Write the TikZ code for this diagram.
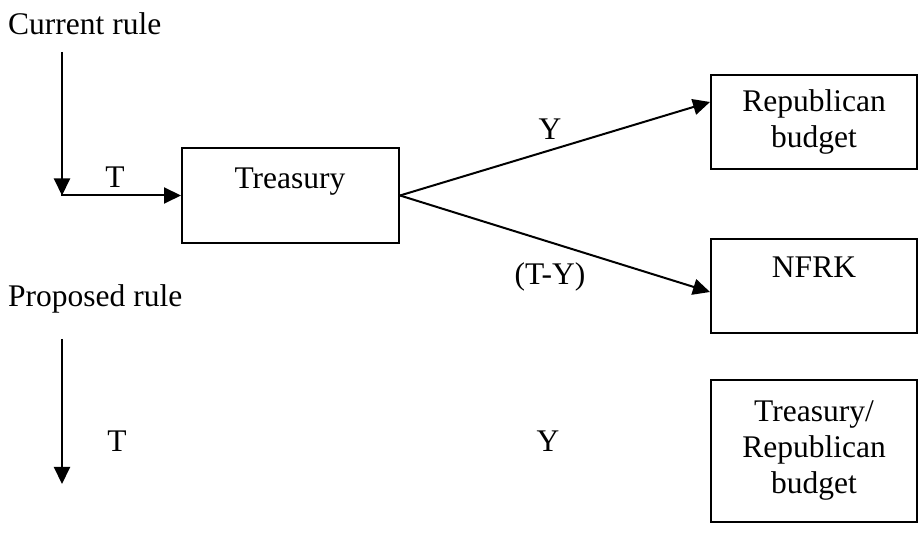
\documentclass[tikz,border=0pt]{standalone}
\usepackage{fontspec}
\setmainfont{Liberation Serif}
\usetikzlibrary{arrows.meta,calc}
\begin{document}
\begin{tikzpicture}[x=1pt,y=-1pt,
  every node/.style={font=\fontsize{31.5}{36}\selectfont, inner sep=0pt},
  boxnode/.style={draw, line width=2pt, minimum width=#1, inner sep=0pt},
  conn/.style={line width=2pt, -{Triangle[length=17pt,width=16pt]}}]
\useasboundingbox (0,0) rectangle (919,534);
% current rule
\node[anchor=base west] (cur) at (8,35) {Current rule};
\coordinate (cstart) at (62,52);
\coordinate (ccorner) at (62,195.5);
\node[boxnode=217pt, minimum height=95pt] (treas) at (290.5,195.5) {};
\node[anchor=base] (treastxt) at (290,189) {Treasury};
\draw[conn] (cstart) -- (ccorner);
\draw[conn] ([xshift=-1pt]ccorner) -- (treas.west);
\node[anchor=base] (tlab) at (115,188) {T};
% right boxes
\node[boxnode=206pt, minimum height=94pt, align=center] (repub) at (814,122) {Republican\\budget};
\node[boxnode=206pt, minimum height=94pt] (nfrk) at (814,286) {};
\node[anchor=base] (nfrktxt) at (814,278) {NFRK};
\node[boxnode=206pt, minimum height=142pt, align=center] (trrep) at (814,451) {Treasury/\\Republican\\budget};
\draw[conn] (treas.east) -- ([yshift=20pt]repub.west);
\draw[conn] (treas.east) -- ([yshift=-6pt]nfrk.west);
\node[anchor=base] (ylab) at (550,140) {Y};
\node[anchor=base] (tylab) at (550,285) {(T-Y)};
% proposed rule
\node[anchor=base west] (prop) at (8,307) {Proposed rule};
\coordinate (pstart) at (62,339);
\coordinate (pend) at (62,484);
\draw[conn] (pstart) -- (pend);
\node[anchor=base] (tlab2) at (117,452) {T};
\node[anchor=base] (ylab2) at (548,452) {Y};
\end{tikzpicture}
\end{document}
